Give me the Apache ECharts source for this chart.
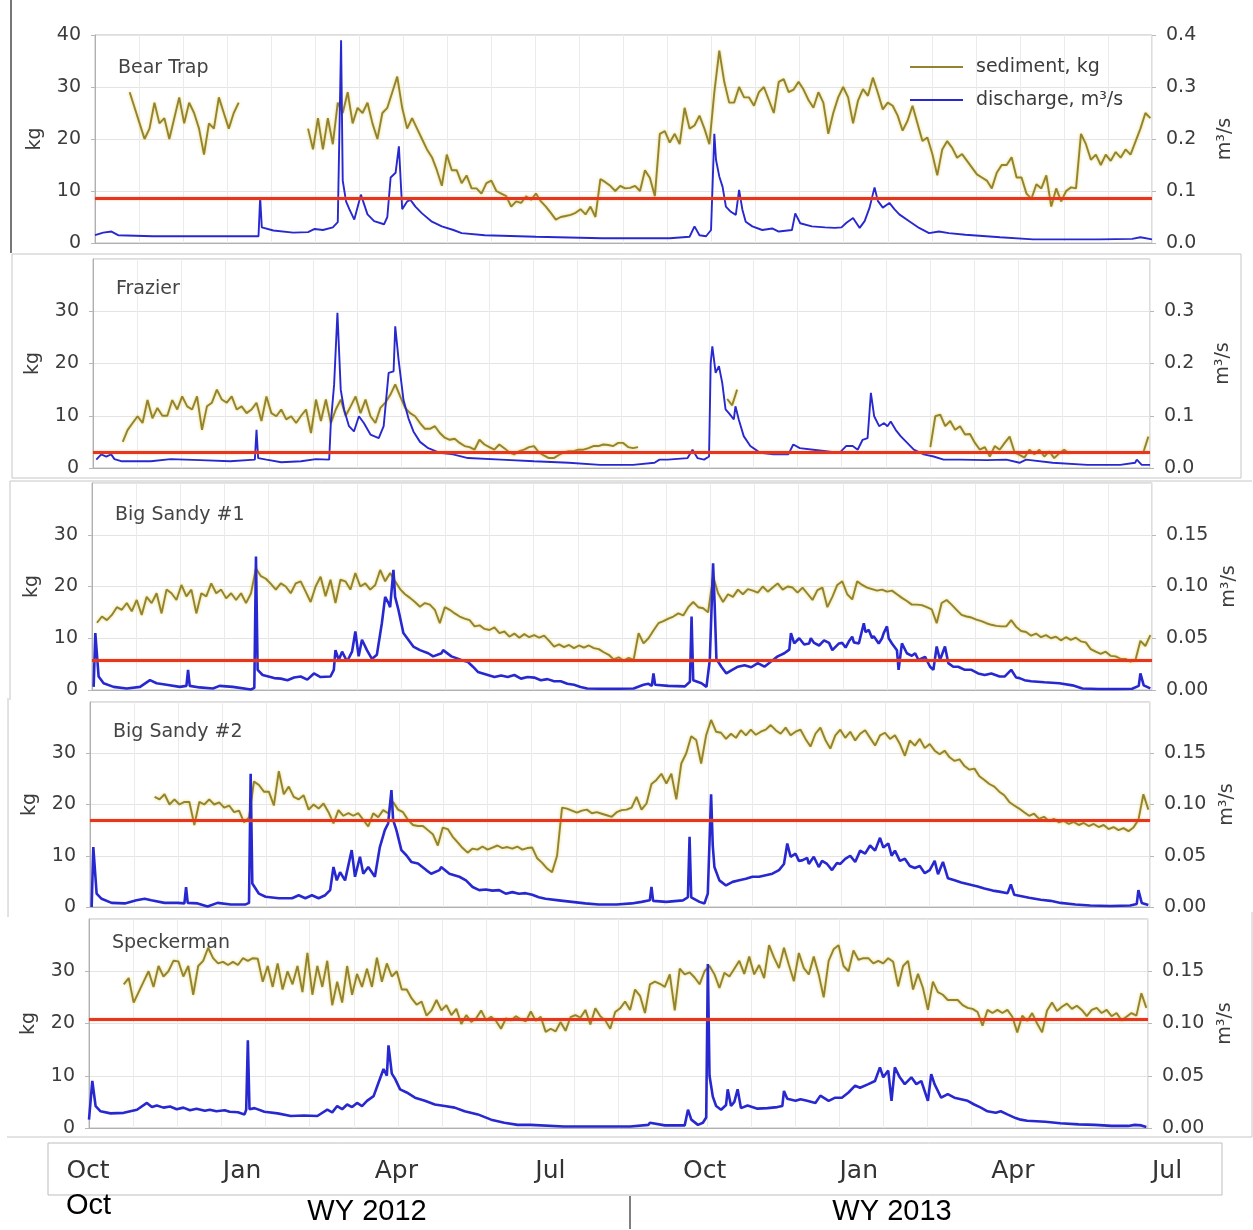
<!DOCTYPE html>
<html>
<head>
<meta charset="utf-8">
<title>Sediment and discharge, WY 2012–2013</title>
<script src="https://cdn.jsdelivr.net/npm/echarts@6/dist/echarts.min.js"></script>
<style>
  html, body { margin: 0; padding: 0; background: #ffffff; }
  #chart { width: 1253px; height: 1230px; }
</style>
</head>
<body>
<div id="chart"></div>
<script>
// Daily record starts 1 Oct 2011 (day 0) and runs to 1 Jul 2013 (day 640).
// Sediment values are sampled every DAY_STEP days; null marks days without a sample.
const DAY_STEP = 3;
const DAY_MAX = 640;

const siteNames = ['Bear Trap', 'Frazier', 'Big Sandy #1', 'Big Sandy #2', 'Speckerman'];
const thresholdKg = [8.7, 3, 5.7, 17, 20.9];
const dischargeAxisMax = [0.4, 0.4, 0.2, 0.2, 0.2];
const dischargeAxisStep = [0.1, 0.1, 0.05, 0.05, 0.05];
const dischargeDigits = [1, 1, 2, 2, 2];
const monthLabels = ['Oct', 'Jan', 'Apr', 'Jul', 'Oct', 'Jan', 'Apr', 'Jul'];

// sediment, kg
const sedimentBearTrap = [
  null,null,null,null,null,null,null,29,26,23,
  20,22,27,23,24,20,24,28,23,27,
  25,22,17,23,22,28,25,22,25,27,
  null,null,null,null,null,null,null,null,null,null,
  null,null,null,22,18,24,18,24,19,27,
  25,29,23,26,25,27,23,20,25,26,
  29,32,26,22,24,22,20,18,16.5,14,
  11,17,14,14,11.5,13,10.5,10.5,9.5,11.5,
  12,10,9.5,9,7,8,7.7,9,8.3,9.5,
  8,7,5.8,4.5,5,5.2,5.4,5.8,6.5,5.5,
  7,5,12.3,11.7,11,10,11,10.5,10.6,11,
  10,14,12.5,9,21,21.5,19.3,21,19,26,
  22,22.6,24.5,22,19,29,37,31,27,27,
  30,28,28,26.4,29,30,27.5,25,31,31.5,
  29,29.5,31,29.5,27.5,26,29,27,21,25,
  28,30,28,23,27.4,29.6,28.3,31.8,28.9,25.7,
  27,26.4,24.5,21.6,23.5,26.4,23,19.6,20.3,17.1,
  13,18,19.6,18.3,16.4,17.1,15.8,14.5,13.2,12.6,
  12,10.5,13.5,15,15,16.5,12.6,12.6,9.5,8.5,
  11.3,10.5,13,7,10.5,8,10,10.7,10.5,21,
  19,16,17,15,17,15.8,17.5,16.4,18,17,
  19.5,22,25,24
];

const sedimentFrazier = [
  null,null,null,null,null,null,5,7.3,8.6,9.9,
  8.6,13,9.5,11.5,10,10,13,11.2,13.7,11.8,
  11.2,13.7,7.3,11.8,12.5,15,13.1,12.5,13.7,11.2,
  11.8,10.5,11.2,12.5,9,13.7,10.5,9.9,11.2,9.3,
  9.9,8.6,10,11.2,6.7,13.1,9,13.1,8.6,11.2,
  13.1,10,11.8,13.7,10.5,13.1,9.9,8.6,11.5,12.5,
  14,16,13.7,11.5,10.5,9.9,8.6,7.5,7.5,8,
  6.7,5.8,5.4,5.6,4.8,4.2,4,3.5,5.4,4.5,
  4,3.5,4.5,3.8,3,2.6,3.2,3.5,4,4.2,
  3,2.4,1.9,1.9,2.5,3,3.2,3.2,3.5,3.5,
  3.8,4.2,4.2,4.5,4.4,4.2,4.8,4.8,4,3.8,
  4,null,null,null,null,null,null,null,null,null,
  null,null,null,null,null,null,null,null,13.2,12,
  15,null,null,null,null,null,null,null,null,null,
  null,null,null,null,null,null,null,null,null,null,
  null,null,null,null,null,null,null,null,null,null,
  null,null,null,null,null,null,null,null,null,4,
  9.9,10.2,8,9,7.3,8,6.4,6.5,4.8,3.5,
  4,2.2,4.2,3.5,4.8,6,3,2.5,2,3.5,
  2.6,3.5,2.2,3.2,1.9,2.8,3.5,2.8,null,null,
  null,null,null,null,null,null,null,null,null,null,
  null,null,3,6
];

const sedimentBigSandy1 = [
  null,13,14.2,13.5,14.5,16,15.5,16.8,15.2,17.4,
  14.5,18,16.8,18.7,14.8,19.4,18.7,17.4,20.3,18.1,
  19.4,14.8,18.7,18.1,20.6,18.7,19.4,17.7,18.7,17.4,
  18.7,16.8,18.7,23.5,22,21.5,20.5,19.4,20.6,20,
  18.7,20.6,21,19,17,20,21.9,18.1,21.3,16.8,
  21.3,21,19.4,22.6,20,20.6,19.4,20.3,23.2,21,
  22.6,21,19.5,18.5,17.8,17,16.1,16.8,16.5,15.5,
  12.9,16,15.5,14.8,14.2,13.8,13.5,12.3,12.5,11.8,
  11.6,12.1,11,11.3,10.3,10.9,10.1,10.8,10.2,10.6,
  10.1,10.5,9.5,8.4,8.8,8.3,8.7,8.1,8.6,8.2,
  8.6,8.1,7.9,7.3,6.8,5.9,6.3,5.7,6.2,5.8,
  11,9,10,11.5,12.9,13.3,13.8,14.2,14.8,14.4,
  16,17,16,15.8,15,22,18.7,17,18.5,18,
  19.4,18.5,19.5,19.2,18.8,20,19,19.8,20.6,19.4,
  20,19.8,18.8,19.8,18.6,17.4,19.3,19.8,16,18,
  20.3,21,18.5,17.5,21,20.3,19.8,19.5,19.2,19.4,
  19,19.2,18.5,17.8,17.2,16.5,16.5,16.4,16,15.6,
  12.9,16.8,17.4,16.5,15.5,14.5,14.2,14,13.6,13.3,
  12.9,12.6,12.4,12.3,12.3,13.5,12.2,11.4,11.2,10.5,
  10.9,10.2,10.6,10,10.3,9.6,10.2,9.7,10.1,9.4,
  9.2,7.9,7.4,7,7.4,6.6,6.5,6,6,5.5,
  5.8,9.5,8.5,10.6
];

const sedimentBigSandy2 = [
  null,null,null,null,null,null,null,null,null,null,
  null,null,null,21.5,21,22,20,21,20,20.5,
  20.5,16,20.5,20,21,20,20.4,19.4,19.8,18.5,
  18.8,16.5,17.5,24.5,23.8,22.5,22.5,19.8,26.5,22,
  23.5,21.5,21,21.8,19,20,19.2,20.2,18.5,16.3,
  18.9,17.8,18.3,17.8,18.3,17,15.7,18.3,17.5,18.9,
  18.3,20.5,19,18.5,17,16,15.8,15.8,15,14.2,
  12,15.5,15.2,13.7,12.6,11.5,10.6,11.4,11.2,11.8,
  11.2,11.6,12,11.5,11.7,11.4,11.8,11.2,11.5,11.6,
  9.5,8.6,7.5,6.8,10,19.4,19.2,18.8,18.4,18.8,
  19,18.3,18.5,18.2,17.9,17.6,18.5,18.9,19,19.4,
  21.5,19,20.2,24,24.8,26,24.1,26,21,28,
  30,33.3,32.6,28,33.5,36.5,34.2,34,32.8,33.8,
  33,34.5,33.5,34.6,33.6,34.2,34.6,35.5,34.5,33.8,
  35,33.5,34.2,34.6,32.8,31.3,33.8,35,32.6,30.9,
  33.5,34.6,33,34.2,32.5,33.8,34.5,33,31.5,33.5,
  34,32.8,33.5,31.8,29.5,32.5,31.5,32.8,31,31.8,
  30.5,29.8,30.5,29.2,28.5,28.8,27.5,26.8,27,25.5,
  24.8,24,23.5,22.5,21.8,20.5,19.8,19.2,18.5,17.8,
  18.2,17.2,17.6,16.8,17.2,16.5,16.8,16.2,16.6,16,
  16.4,15.8,16.2,15.6,16,15.2,15.6,15,15.4,14.8,
  15.5,17,22,19
];

const sedimentSpeckerman = [
  null,null,null,null,null,null,null,27.5,28.7,24,
  26,28,30,27,31,29,30,32,31.9,29,
  31,25.5,31,32,34.5,32.5,31.5,31.8,31.2,31.8,
  31.2,32.5,32,32.5,32.4,28,31,27,31.5,26.5,
  30,27.5,31,26,33.5,25.5,31,27,32,23.5,
  28,24,31,25.5,29.5,27,30.5,27,32.6,28,
  31.5,29,30,26.5,26.5,24.8,23.6,24.2,21.5,22.5,
  24.5,22.5,23.5,21.6,22.8,19.9,21.6,20.3,21,22.5,
  20.6,21.3,20.5,19,21,20.6,21.4,20.8,20.4,22.3,
  20.5,21.3,18.4,19,18.5,20.3,18.6,21.2,21.6,21.1,
  22.6,19.8,22.9,21.4,20.6,19,22.2,22.9,24.2,22.6,
  26.5,25.3,22,27.5,28,27.6,27,29.4,22.5,30.5,
  29.4,29.8,28.8,27.5,30,31,29.4,26.8,29.7,29,
  30.5,32,29.5,32.8,29.4,31.2,28.7,35,32.6,30.6,
  34.5,31.2,28.1,33.5,30.6,29.4,32.8,29.4,25,32,
  34.2,35,31,30,34,32.2,32.5,32.5,31.5,32,
  31.5,32.5,31.8,27.1,31,32,26.5,29.5,26.8,22.6,
  28,26,25.5,24.5,24.5,24.5,23.5,23,22.8,22.2,
  19.6,22.6,22,22.6,22,22.6,21.3,18.3,21.5,20.5,
  22,20,18.3,22.5,24,22.4,23.2,23.8,22.8,23.4,
  22.6,21.4,22.6,23,22,22.6,21.4,22,20.6,21.3,
  22,21.5,25.8,23
];

// discharge, m³/s, as [day, value]
const dischargeBearTrap = [
  [0,0.015],[5,0.02],[10,0.022],[14,0.015],[35,0.013],[65,0.013],[99,0.013],[100,0.088],[101,0.03],
  [108,0.024],[120,0.02],[129,0.021],[133,0.027],[138,0.025],[144,0.03],[147,0.04],[149,0.39],[150,0.12],
  [152,0.08],[154,0.065],[157,0.045],[161,0.093],[165,0.055],[169,0.042],[175,0.036],[177,0.05],[179,0.126],
  [182,0.135],[184,0.186],[186,0.065],[189,0.08],[191,0.083],[194,0.07],[198,0.057],[204,0.041],[210,0.032],
  [217,0.025],[218,0.027],[222,0.019],[236,0.015],[267,0.012],[307,0.009],[348,0.009],[360,0.012],[363,0.032],
  [366,0.015],[370,0.013],[373,0.025],[375,0.21],[376,0.16],[378,0.128],[380,0.108],[382,0.07],[385,0.06],
  [388,0.054],[390,0.102],[392,0.064],[394,0.041],[398,0.032],[404,0.025],[410,0.028],[414,0.022],[422,0.025],
  [424,0.057],[427,0.038],[434,0.032],[442,0.03],[448,0.029],[452,0.03],[455,0.039],[459,0.048],[463,0.029],
  [466,0.042],[469,0.068],[472,0.107],[474,0.081],[477,0.068],[481,0.077],[484,0.065],[487,0.055],[493,0.042],
  [499,0.029],[505,0.019],[511,0.022],[517,0.019],[527,0.016],[548,0.011],[568,0.007],[587,0.007],[608,0.007],
  [628,0.008],[633,0.011],[640,0.007]
];

const dischargeFrazier = [
  [2,0.016],[5,0.026],[8,0.022],[11,0.026],[13,0.017],[17,0.013],[35,0.013],[47,0.017],[65,0.015],[83,0.013],
  [98,0.016],[99,0.073],[100,0.019],[105,0.016],[114,0.011],[126,0.013],[135,0.017],[143,0.016],[144,0.086],
  [146,0.16],[148,0.297],[150,0.15],[152,0.112],[155,0.08],[158,0.07],[161,0.099],[164,0.086],[168,0.064],
  [173,0.057],[176,0.08],[179,0.182],[182,0.185],[183,0.271],[185,0.208],[188,0.13],[191,0.095],[194,0.07],
  [198,0.05],[203,0.038],[210,0.029],[218,0.026],[227,0.019],[247,0.016],[267,0.013],[288,0.01],[307,0.006],
  [327,0.006],[340,0.01],[343,0.016],[348,0.016],[360,0.019],[363,0.035],[366,0.019],[370,0.016],[373,0.022],
  [374,0.2],[375,0.233],[377,0.182],[379,0.195],[381,0.163],[383,0.112],[385,0.105],[388,0.093],[389,0.118],
  [391,0.093],[394,0.061],[398,0.042],[404,0.029],[412,0.026],[421,0.026],[424,0.045],[428,0.038],[436,0.035],
  [444,0.032],[452,0.029],[456,0.042],[460,0.042],[463,0.035],[466,0.054],[469,0.057],[471,0.144],[473,0.099],
  [476,0.08],[479,0.086],[481,0.08],[483,0.089],[486,0.073],[489,0.061],[493,0.048],[497,0.035],[503,0.026],
  [509,0.022],[515,0.016],[525,0.016],[541,0.015],[553,0.016],[561,0.01],[565,0.016],[581,0.01],[602,0.006],
  [622,0.006],[631,0.01],[632,0.016],[635,0.006],[640,0.006]
];

const dischargeBigSandy1 = [
  [1,0.003],[2,0.055],[4,0.013],[7,0.0065],[13,0.003],[21,0.0015],[29,0.003],[35,0.0095],[39,0.0065],[45,0.005],
  [53,0.003],[57,0.004],[58,0.0195],[59,0.004],[65,0.0025],[73,0.0015],[77,0.004],[85,0.003],[96,0.0005],[98,0.002],
  [99,0.129],[100,0.0195],[103,0.0145],[110,0.0115],[114,0.011],[118,0.0095],[122,0.012],[126,0.013],[130,0.01],
  [134,0.016],[138,0.0125],[144,0.013],[146,0.0195],[147,0.0385],[149,0.029],[151,0.037],[154,0.0275],[157,0.037],
  [159,0.0565],[161,0.0325],[163,0.0485],[166,0.0385],[169,0.03],[172,0.034],[175,0.0645],[177,0.09],[179,0.084],
  [180,0.08],[182,0.116],[183,0.09],[185,0.0775],[186,0.0775],[188,0.055],[191,0.0485],[194,0.042],[198,0.0385],
  [203,0.0355],[206,0.0325],[211,0.0355],[212,0.0385],[217,0.0325],[223,0.029],[227,0.027],[230,0.0225],[233,0.0175],
  [239,0.0145],[243,0.0125],[247,0.014],[251,0.0125],[255,0.0145],[259,0.011],[263,0.0125],[267,0.012],[271,0.0095],
  [275,0.0105],[279,0.0085],[283,0.0085],[287,0.006],[291,0.005],[295,0.003],[299,0.0015],[307,0.0012],[318,0.0012],
  [327,0.0015],[333,0.005],[336,0.006],[338,0.004],[339,0.016],[340,0.005],[348,0.004],[358,0.0035],[361,0.008],
  [362,0.071],[363,0.0095],[368,0.0065],[371,0.003],[373,0.029],[375,0.1225],[376,0.08],[377,0.03],[380,0.0225],
  [383,0.016],[386,0.019],[390,0.0225],[394,0.024],[398,0.022],[402,0.026],[406,0.0225],[410,0.0275],[414,0.0325],
  [418,0.0355],[421,0.039],[422,0.055],[424,0.045],[427,0.05],[428,0.0515],[430,0.044],[433,0.045],[434,0.05],
  [436,0.0455],[439,0.043],[440,0.042],[442,0.048],[445,0.0455],[447,0.0385],[448,0.04],[451,0.045],[453,0.0455],
  [455,0.041],[457,0.047],[459,0.0515],[460,0.046],[463,0.045],[465,0.058],[466,0.0645],[467,0.056],[469,0.058],
  [471,0.05],[472,0.052],[475,0.045],[477,0.05],[478,0.055],[480,0.0615],[481,0.05],[483,0.045],[486,0.0385],
  [487,0.0195],[489,0.045],[492,0.0355],[495,0.033],[497,0.0355],[499,0.029],[503,0.032],[506,0.0225],[508,0.0195],
  [510,0.042],[512,0.029],[515,0.042],[517,0.026],[520,0.0225],[523,0.0225],[527,0.0195],[531,0.0195],[535,0.016],
  [539,0.0145],[543,0.016],[548,0.013],[551,0.013],[555,0.0195],[558,0.012],[560,0.0115],[563,0.0095],[567,0.0085],
  [575,0.0075],[584,0.0065],[592,0.0045],[598,0.0015],[608,0.001],[618,0.001],[628,0.0012],[632,0.004],[633,0.016],
  [635,0.0045],[639,0.0015]
];

const dischargeBigSandy2 = [
  [1,0],[2,0.0585],[4,0.013],[7,0.008],[13,0.004],[21,0.0035],[28,0.0065],[33,0.008],[37,0.0065],[45,0.004],
  [53,0.004],[57,0.0035],[58,0.0195],[59,0.004],[65,0.0035],[71,0.0005],[77,0.004],[85,0.0025],[94,0.0025],[96,0.004],
  [97,0.13],[98,0.023],[102,0.013],[106,0.01],[114,0.0085],[122,0.0085],[126,0.0115],[130,0.0085],[134,0.0115],
  [138,0.0085],[142,0.0115],[145,0.0165],[147,0.039],[149,0.026],[151,0.034],[154,0.026],[158,0.0555],[160,0.0295],
  [163,0.049],[165,0.0325],[168,0.039],[172,0.0295],[175,0.0585],[178,0.075],[180,0.0815],[182,0.114],[183,0.085],
  [185,0.075],[188,0.0555],[191,0.0505],[194,0.044],[198,0.0425],[203,0.036],[206,0.0325],[211,0.036],[212,0.039],
  [217,0.0325],[223,0.0295],[227,0.026],[231,0.0195],[235,0.0165],[239,0.017],[243,0.016],[247,0.0165],[251,0.013],
  [255,0.0145],[259,0.013],[263,0.0135],[267,0.012],[271,0.0095],[275,0.008],[283,0.0065],[291,0.005],[299,0.0035],
  [307,0.0025],[318,0.0025],[327,0.0035],[333,0.005],[338,0.0065],[339,0.0195],[340,0.006],[348,0.005],[358,0.0065],
  [361,0.0095],[362,0.0685],[363,0.0095],[368,0.005],[371,0.0035],[373,0.013],[375,0.11],[376,0.06],[377,0.039],
  [380,0.026],[384,0.021],[388,0.0245],[392,0.026],[396,0.0275],[400,0.0295],[404,0.0295],[408,0.031],[412,0.0325],
  [416,0.036],[419,0.042],[421,0.062],[423,0.049],[426,0.052],[428,0.045],[430,0.0455],[433,0.048],[434,0.042],
  [437,0.049],[440,0.039],[442,0.045],[445,0.042],[448,0.036],[451,0.043],[453,0.042],[456,0.047],[459,0.05],
  [462,0.044],[465,0.055],[468,0.052],[471,0.06],[474,0.055],[477,0.0675],[479,0.058],[482,0.062],[484,0.05],
  [486,0.055],[489,0.045],[492,0.047],[495,0.04],[498,0.038],[501,0.04],[504,0.033],[507,0.036],[510,0.045],
  [512,0.032],[515,0.044],[518,0.028],[522,0.026],[526,0.024],[531,0.022],[536,0.02],[540,0.018],[545,0.016],
  [549,0.015],[554,0.0135],[556,0.022],[558,0.012],[561,0.011],[567,0.009],[574,0.007],[580,0.006],[586,0.004],
  [595,0.0025],[604,0.0015],[616,0.001],[628,0.0015],[632,0.003],[633,0.0165],[635,0.004],[639,0.002]
];

const dischargeSpeckerman = [
  [0,0.008],[1,0.009],[2,0.045],[4,0.021],[7,0.016],[13,0.014],[21,0.0145],[29,0.0175],[35,0.024],[38,0.02],
  [41,0.0215],[45,0.0195],[49,0.0205],[53,0.018],[57,0.0195],[61,0.017],[65,0.0185],[70,0.0165],[73,0.0175],
  [77,0.016],[82,0.017],[85,0.0155],[90,0.015],[94,0.013],[95,0.0175],[96,0.084],[97,0.018],[100,0.019],[106,0.0155],
  [114,0.014],[122,0.0115],[130,0.012],[138,0.0115],[144,0.0175],[147,0.015],[150,0.021],[153,0.018],[156,0.0225],
  [159,0.02],[162,0.024],[165,0.021],[168,0.026],[172,0.0305],[175,0.0435],[178,0.0565],[180,0.05],[181,0.079],
  [183,0.052],[185,0.047],[188,0.037],[192,0.034],[197,0.029],[203,0.026],[209,0.0225],[215,0.021],[221,0.0195],
  [227,0.016],[235,0.013],[243,0.008],[251,0.005],[259,0.003],[267,0.003],[287,0.0015],[307,0.0015],[327,0.0015],
  [338,0.003],[339,0.005],[348,0.0025],[360,0.0025],[362,0.0175],[364,0.008],[368,0.003],[371,0.005],[373,0.01],
  [374,0.157],[375,0.05],[377,0.03],[379,0.021],[382,0.0175],[385,0.022],[386,0.037],[388,0.021],[390,0.025],
  [392,0.037],[394,0.019],[398,0.0215],[404,0.0185],[410,0.019],[416,0.02],[419,0.021],[420,0.0355],[422,0.028],
  [427,0.026],[430,0.0275],[434,0.026],[439,0.024],[442,0.031],[447,0.026],[451,0.029],[455,0.029],[459,0.034],
  [463,0.0405],[466,0.0385],[471,0.042],[475,0.045],[478,0.058],[480,0.0485],[483,0.055],[485,0.026],[487,0.058],
  [490,0.0485],[493,0.042],[497,0.0485],[500,0.042],[503,0.045],[507,0.026],[509,0.0515],[511,0.042],[515,0.029],
  [519,0.0325],[523,0.029],[527,0.0275],[531,0.026],[535,0.0225],[539,0.0195],[543,0.016],[548,0.0145],[551,0.016],
  [555,0.013],[560,0.0095],[563,0.008],[567,0.007],[578,0.006],[587,0.0045],[598,0.0035],[608,0.003],[618,0.002],
  [628,0.002],[632,0.003],[636,0.0025],[639,0.001]
];

const sedimentBySite = [sedimentBearTrap, sedimentFrazier, sedimentBigSandy1, sedimentBigSandy2, sedimentSpeckerman];
const dischargeBySite = [dischargeBearTrap, dischargeFrazier, dischargeBigSandy1, dischargeBigSandy2, dischargeSpeckerman];

// Panel placement on the page (pixels)
const panelLayout = [
  { left: 95, right: 101, top: 35,  height: 208, titleTop: 54 },
  { left: 93, right: 103, top: 259, height: 209, titleTop: 275 },
  { left: 92, right: 101, top: 483, height: 207, titleTop: 501 },
  { left: 90, right: 103, top: 702, height: 205, titleTop: 718 },
  { left: 89, right: 105, top: 919, height: 209, titleTop: 929 }
];

const FONT = '"DejaVu Sans", sans-serif';
const SED_COLOR = '#938330';
const SED_GLOW = 'rgba(222, 205, 70, 0.85)';
const Q_COLOR = '#2828d0';
const RED = '#e6361f';
const TEXT = '#3c3c3c';

const grids = [], xAxes = [], yAxes = [], series = [], titles = [];

panelLayout.forEach((p, i) => {
  grids.push({
    left: p.left, right: p.right, top: p.top, height: p.height,
    show: true, borderColor: '#bdbdbd', borderWidth: 1, backgroundColor: '#ffffff'
  });
  xAxes.push({
    type: 'value', gridIndex: i, min: 0, max: DAY_MAX, interval: DAY_MAX / 24,
    axisLabel: { show: false }, axisTick: { show: false },
    axisLine: { show: true, lineStyle: { color: '#b0b0b0' } },
    splitLine: { show: true, lineStyle: { color: '#ebebeb', width: 1 } }
  });
  yAxes.push({
    type: 'value', gridIndex: i, min: 0, max: 40, interval: 10,
    name: 'kg', nameLocation: 'middle', nameGap: 50, nameRotate: 90,
    nameTextStyle: { fontSize: 19, color: TEXT, fontFamily: FONT },
    axisLine: { show: true, lineStyle: { color: '#b0b0b0' } },
    axisTick: { show: true, length: 4, lineStyle: { color: '#b8b8b8' } },
    axisLabel: { fontSize: 19, color: TEXT, fontFamily: FONT, margin: 14, showMaxLabel: i === 0 },
    splitLine: { show: true, lineStyle: { color: '#e4e4e4' } }
  });
  yAxes.push({
    type: 'value', gridIndex: i, position: 'right', min: 0,
    max: dischargeAxisMax[i], interval: dischargeAxisStep[i],
    name: 'm³/s', nameLocation: 'middle', nameGap: 64, nameRotate: 90,
    nameTextStyle: { fontSize: 19, color: TEXT, fontFamily: FONT },
    axisLine: { show: false },
    axisTick: { show: true, length: 4, lineStyle: { color: '#b8b8b8' } },
    axisLabel: {
      fontSize: 19, color: TEXT, fontFamily: FONT, margin: 14, showMaxLabel: i === 0,
      formatter: v => v.toFixed(dischargeDigits[i])
    },
    splitLine: { show: false }
  });
  titles.push({
    text: siteNames[i], left: p.left + 18, top: p.titleTop,
    textStyle: { fontSize: 19, fontWeight: 'normal', color: '#444444', fontFamily: FONT }
  });
  series.push({
    type: 'line', name: 'sediment, kg', xAxisIndex: i, yAxisIndex: 2 * i,
    data: sedimentBySite[i].map((v, k) => [k * DAY_STEP, v]),
    symbol: 'none', connectNulls: false, silent: true,
    lineStyle: { color: SED_COLOR, width: 1.9, shadowColor: SED_GLOW, shadowBlur: 3 },
    itemStyle: { color: SED_COLOR },
    z: 2
  });
  series.push({
    type: 'line', name: 'discharge, m³/s', xAxisIndex: i, yAxisIndex: 2 * i + 1,
    data: dischargeBySite[i],
    symbol: 'none', silent: true,
    lineStyle: { color: Q_COLOR, width: i < 2 ? 1.9 : 2.6 }, itemStyle: { color: Q_COLOR },
    z: 3
  });
  // threshold line, drawn on the kg scale
  series.push({
    type: 'line', xAxisIndex: i, yAxisIndex: 2 * i, data: [], silent: true,
    markLine: {
      silent: true, symbol: ['none', 'none'], label: { show: false },
      lineStyle: { color: RED, width: 2.8, type: 'solid', shadowColor: 'rgba(255,140,60,0.6)', shadowBlur: 2 },
      data: [{ yAxis: thresholdKg[i] }]
    }
  });
});

// Month strip under the panels
grids.push({ left: 88, width: 1079, top: 1156, height: 1, show: false });
xAxes.push({
  type: 'category', gridIndex: 5, data: monthLabels, boundaryGap: false,
  axisLine: { show: false }, axisTick: { show: false },
  axisLabel: { interval: 0, fontSize: 25, color: '#333333', fontFamily: FONT, margin: 2 }
});
yAxes.push({ type: 'value', gridIndex: 5, show: false });

const frameStyle = { stroke: '#c6c6c6', lineWidth: 1, fill: null };

const option = {
  animation: false,
  backgroundColor: '#ffffff',
  textStyle: { fontFamily: FONT },
  title: titles,
  legend: {
    data: ['sediment, kg', 'discharge, m³/s'],
    orient: 'vertical', left: 905, top: 52,
    icon: 'rect', itemWidth: 53, itemHeight: 2, itemGap: 13, selectedMode: false,
    textStyle: { fontSize: 19, color: TEXT, fontFamily: FONT, lineHeight: 20, padding: [0, 0, 0, 8] }
  },
  grid: grids,
  xAxis: xAxes,
  yAxis: yAxes,
  series: series,
  graphic: [
    { type: 'line', shape: { x1: 11, y1: 0, x2: 11, y2: 253 }, style: { stroke: '#4a4a4a', lineWidth: 1.5 } },
    { type: 'rect', shape: { x: 12, y: 254, width: 1229, height: 224 }, style: frameStyle },
    { type: 'polyline', shape: { points: [[10, 700], [10, 481], [1252, 481]] }, style: frameStyle },
    { type: 'line', shape: { x1: 8, y1: 698, x2: 8, y2: 917 }, style: frameStyle },
    { type: 'polyline', shape: { points: [[7, 1137], [1252, 1137], [1252, 912]] }, style: frameStyle },
    { type: 'rect', shape: { x: 48, y: 1143, width: 1174, height: 52 }, style: { stroke: '#bdbdbd', lineWidth: 1, fill: null } },
    { type: 'line', shape: { x1: 630, y1: 1196, x2: 630, y2: 1229 }, style: { stroke: '#000000', lineWidth: 1 } },
    { type: 'text', style: { text: 'Oct', x: 66, y: 1206, fill: '#000000', font: '29px "Liberation Sans", sans-serif', verticalAlign: 'middle', align: 'left' } },
    { type: 'text', style: { text: 'WY 2012', x: 367, y: 1212, fill: '#000000', font: '29px "Liberation Sans", sans-serif', verticalAlign: 'middle', align: 'center' } },
    { type: 'text', style: { text: 'WY 2013', x: 892, y: 1212, fill: '#000000', font: '29px "Liberation Sans", sans-serif', verticalAlign: 'middle', align: 'center' } }
  ]
};

const chart = echarts.init(document.getElementById('chart'), null, { renderer: 'canvas' });
chart.setOption(option);
</script>
</body>
</html>
